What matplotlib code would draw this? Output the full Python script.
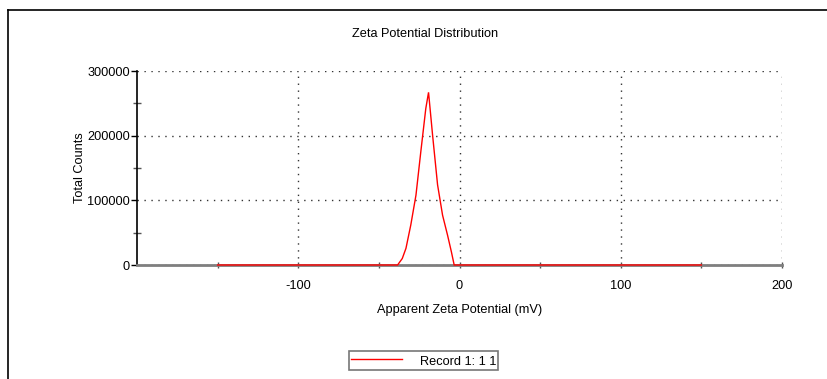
import matplotlib
matplotlib.use("Agg")
import matplotlib.pyplot as plt
from matplotlib.lines import Line2D

plt.rcParams['font.family'] = ['Liberation Sans', 'DejaVu Sans']
plt.rcParams['axes.unicode_minus'] = False

# Data
zeta_mv = [-150, -38.4, -35.5, -33.2, -30.2, -27.0, -24.0, -20.9, -19.2,
           -16.7, -13.6, -10.5, -7.4, -5.0, -3.3, 150]
total_counts = [0, 0, 10000, 25800, 62000, 108000, 175000, 242000, 267000,
                201000, 124000, 77000, 46000, 20000, 0, 0]
series_label = "Record 1: 1 1"
x_major = [-100, 0, 100, 200]
x_minor = [-150, -50, 50, 150]
y_major = [0, 100000, 200000, 300000]
y_minor = [50000, 150000, 250000]

FS = 9.2
W, H = 827, 379
fig = plt.figure(figsize=(W / 100, H / 100), dpi=100)

# outer frame (left and top lines)
fig.add_artist(Line2D([8 / W, 8 / W], [0, 1 - 10 / H], color='black', lw=1.2,
                      transform=fig.transFigure))
fig.add_artist(Line2D([8 / W, 1], [1 - 10 / H, 1 - 10 / H], color='black', lw=1.2,
                      transform=fig.transFigure))

ax = fig.add_axes([137 / W, 1 - 265 / H, (782 - 137) / W, (265 - 71) / H])
ax.set_xlim(-200, 200)
ax.set_ylim(0, 300000)

for s in ['top', 'right']:
    ax.spines[s].set_visible(False)
ax.spines['bottom'].set_color('#7f7f7f')
ax.spines['bottom'].set_linewidth(2.0)
ax.spines['left'].set_color('black')
ax.spines['left'].set_linewidth(1.2)

ax.set_xticks(x_major)
ax.set_xticks(x_minor, minor=True)
ax.set_yticks(y_major)
ax.set_yticks(y_minor, minor=True)
ax.set_yticklabels([str(v) for v in y_major])

ax.tick_params(axis='x', which='both', direction='inout', length=5, width=1,
               color='#555555', labelsize=FS, pad=8)
ax.tick_params(axis='y', which='major', direction='out', length=4, width=1,
               color='black', labelsize=FS, pad=1)
ax.tick_params(axis='y', which='minor', direction='inout', length=6, width=1,
               color='#555555')

ax.grid(True, which='major', linestyle=(0, (1, 4)), color='#333333', linewidth=1)

ax.plot(zeta_mv, total_counts, color='red', lw=1.0, label=series_label,
        solid_joinstyle='miter', zorder=5, clip_on=False)

ax.set_xlabel("Apparent Zeta Potential (mV)", fontsize=FS, labelpad=9)
ax.set_ylabel("Total Counts", fontsize=FS, labelpad=1)

fig.text(425 / W, 1 - 34 / H, "Zeta Potential Distribution", ha='center',
         va='center', fontsize=FS)

leg = ax.legend(loc='center', bbox_to_anchor=(423.7 / W, 1 - 360.5 / H),
                bbox_transform=fig.transFigure, fontsize=FS, frameon=True,
                fancybox=False, handlelength=4.0, handletextpad=1.4,
                borderpad=0.15, handleheight=1.45, borderaxespad=0)
leg.get_frame().set_edgecolor('#555555')
leg.get_frame().set_linewidth(1.2)

fig.savefig("out.png", dpi=100)
